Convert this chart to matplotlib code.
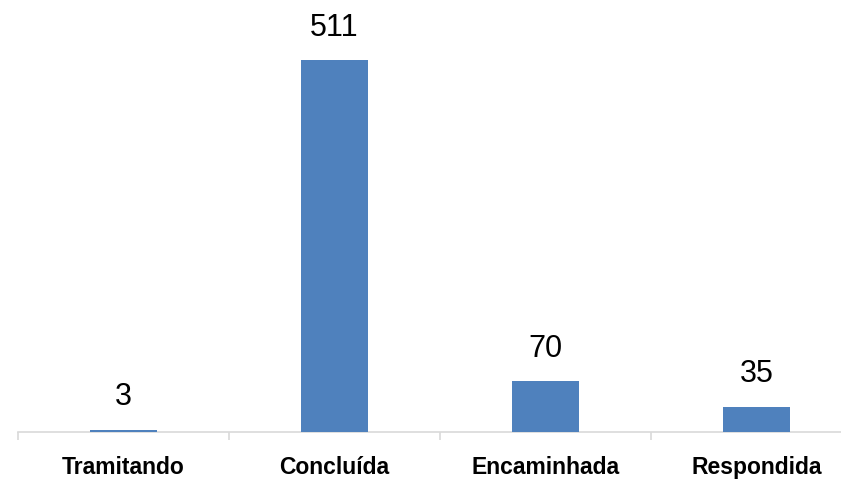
import matplotlib
matplotlib.use("Agg")
import matplotlib.pyplot as plt
from matplotlib.ticker import FixedLocator

categories = ["Tramitando", "Concluída", "Encaminhada", "Respondida"]
values = [3, 511, 70, 35]

plt.rcParams['font.family'] = ['Liberation Sans', 'DejaVu Sans']

W, H = 841, 479
fig = plt.figure(figsize=(W / 100, H / 100), dpi=100)
px_per_unit = 0.728
ymax = 560
ax_h = ymax * px_per_unit
left_px, right_px, base_px = 18, 862, 432
ax = fig.add_axes([left_px / W, (H - base_px) / H, (right_px - left_px) / W, ax_h / H])

x = list(range(len(categories)))
bars = ax.bar(x, values, width=0.313, color="#4F81BD", zorder=3)
ax.set_xlim(-0.5, len(categories) - 0.5)
ax.set_ylim(0, ymax)

for xi, v in zip(x, values):
    ax.annotate(str(v), (xi, v), xytext=(0, 12.5), textcoords="offset points",
                ha="center", va="bottom", fontsize=22, color="black",
                annotation_clip=False)

for s in ["top", "right", "left"]:
    ax.spines[s].set_visible(False)
ax.spines["bottom"].set_color("#d9d9d9")
ax.spines["bottom"].set_linewidth(1.2)
ax.set_yticks([])

ax.set_xticks(x)
ax.set_xticklabels(categories, fontsize=16.5, fontweight="bold")
ax.tick_params(axis="x", which="major", length=0, pad=17)
ax.xaxis.set_minor_locator(FixedLocator([i - 0.5 for i in range(len(categories) + 1)]))
ax.tick_params(axis="x", which="minor", length=6, width=1.2, color="#d9d9d9", direction="out")

fig.savefig("out.png", dpi=100)
